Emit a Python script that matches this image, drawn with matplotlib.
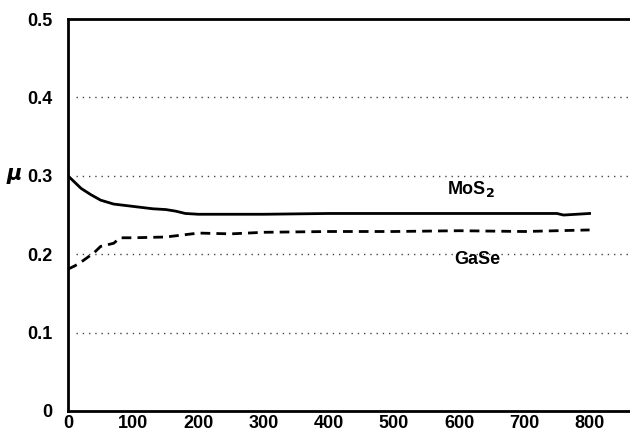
import numpy as np
import matplotlib.pyplot as plt

# friction coefficient vs. number of cycles
mos2_x = [0, 10, 20, 35, 50, 70, 100, 130, 150, 165, 180, 200, 300, 400, 500, 600, 700, 750, 760, 800]
mos2_y = [0.300, 0.292, 0.284, 0.276, 0.269, 0.264, 0.261, 0.258, 0.257, 0.255, 0.252, 0.251, 0.251, 0.252, 0.252, 0.252, 0.252, 0.252, 0.250, 0.252]

gase_x = [0, 10, 20, 30, 40, 50, 60, 70, 80, 100, 150, 180, 200, 250, 300, 400, 500, 600, 700, 800]
gase_y = [0.181, 0.185, 0.190, 0.196, 0.202, 0.210, 0.212, 0.214, 0.221, 0.221, 0.222, 0.225, 0.227, 0.226, 0.228, 0.229, 0.229, 0.230, 0.229, 0.231]

xticks = [0, 100, 200, 300, 400, 500, 600, 700, 800]
yticks = [0, 0.1, 0.2, 0.3, 0.4, 0.5]
yticklabels = ['0', '0.1', '0.2', '0.3', '0.4', '0.5']

plt.rcParams['font.family'] = 'Liberation Sans'
plt.rcParams['font.weight'] = 'bold'

fig = plt.figure(figsize=(6.3, 4.34), dpi=100)
ax = fig.add_axes([0.108, 0.053, 0.892, 0.903])

# dotted reference lines
for yv in [0.1, 0.2, 0.3, 0.4]:
    ax.plot([12, 862], [yv, yv], color='#444444', lw=1.0, ls=(0, (1, 3.5)), zorder=1)

ax.plot(mos2_x, mos2_y, color='black', lw=2.0, zorder=3)
ax.plot(gase_x, gase_y, color='black', lw=2.0, ls=(0, (3.5, 2.2)), zorder=3)

ax.text(582, 0.277, 'MoS$_2$', fontsize=13, fontweight='bold')
ax.text(592, 0.187, 'GaSe', fontsize=13, fontweight='bold')

ax.set_xlim(0, 862)
ax.set_ylim(0, 0.5)
ax.set_xticks(xticks)
ax.set_xticklabels([str(v) for v in xticks])
ax.set_yticks(yticks)
ax.set_yticklabels(yticklabels)
ax.tick_params(length=0, labelsize=13)
ax.tick_params(axis='x', pad=3)
ax.tick_params(axis='y', pad=11)

for side in ['left', 'bottom', 'top']:
    ax.spines[side].set_linewidth(2.0)
ax.spines['right'].set_visible(False)

fig.text(0.022, 0.595, r'$\mu$', fontsize=15, ha='center', va='center')

fig.savefig('out.png', dpi=100)
